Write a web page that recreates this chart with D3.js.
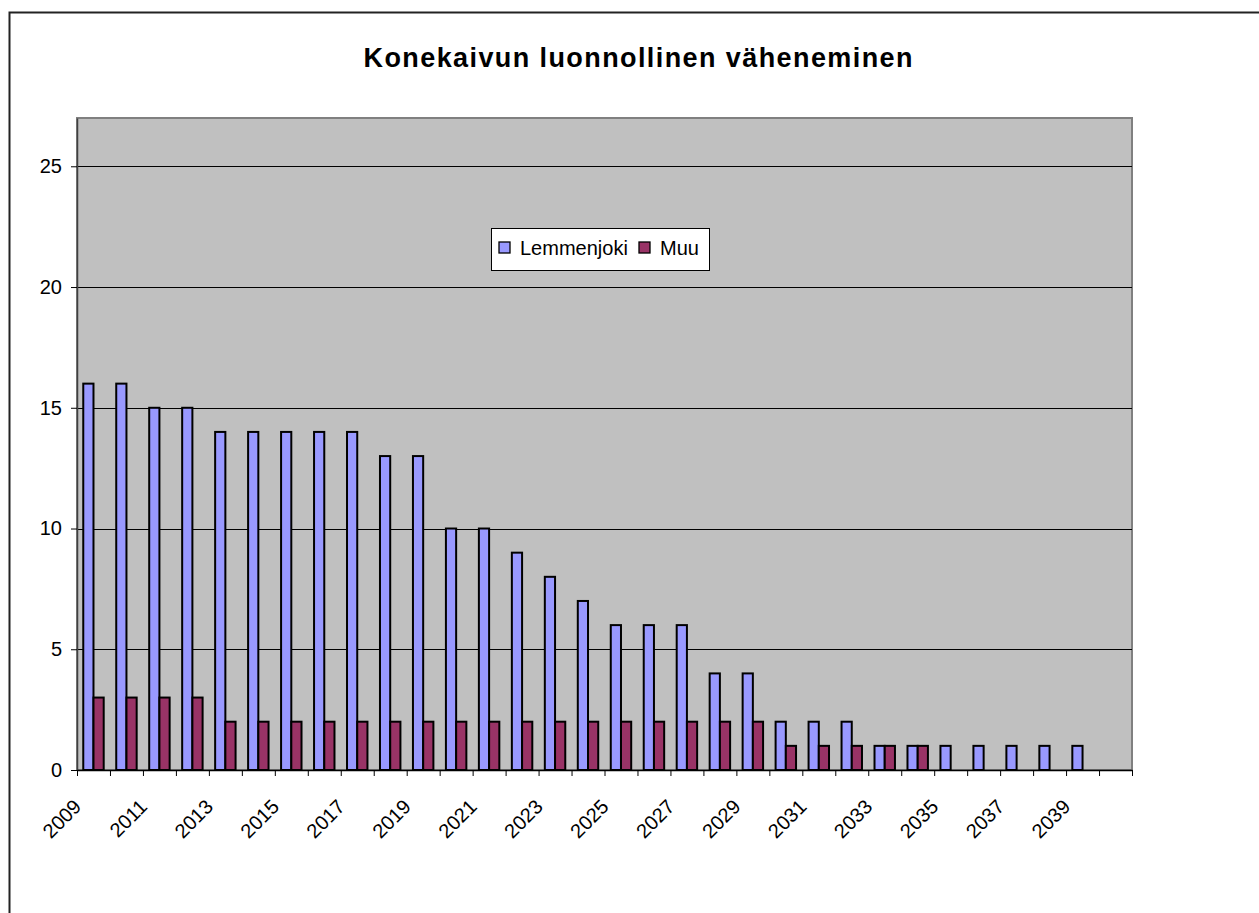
<!DOCTYPE html>
<html>
<head>
<meta charset="utf-8">
<script src="https://cdn.jsdelivr.net/npm/d3@7"></script>
<style>
	body { margin: 0; background: #fff; }
	text { font-family: Arial, "Liberation Sans", sans-serif; fill: #000; }
</style>
</head>
<body>
<script>
// chart data
var years = d3.range(2009, 2041); // 32 categories, last one empty
var lemmenjoki = [16, 16, 15, 15, 14, 14, 14, 14, 14, 13, 13, 10, 10, 9, 8, 7,
	6, 6, 6, 4, 4, 2, 2, 2, 1, 1, 1, 1, 1, 1, 1, null];
var muu = [3, 3, 3, 3, 2, 2, 2, 2, 2, 2, 2, 2, 2, 2, 2, 2,
	2, 2, 2, 2, 2, 1, 1, 1, 1, 1, null, null, null, null, null, null];
var seriesNames = ["Lemmenjoki", "Muu"];
var yTicks = [0, 5, 10, 15, 20, 25];
var tickYears = years.filter(function(d, i){ return i % 2 === 0 && d < 2040; });

var titleText = "Konekaivun luonnollinen väheneminen";

window.onload = function(){
	var w = 1259, h = 913;
	var plotL = 77, plotR = 1132, plotT = 118, plotB = 770;
	var colors = { Lemmenjoki: "#9999FF", Muu: "#993366" };

	var svg = d3.select("body")
		.append("svg")
		.attr("width", w)
		.attr("height", h);

	// outer chart border (runs off the right and bottom)
	svg.append("rect")
		.attr("x", 9.5)
		.attr("y", 12.5)
		.attr("width", 1300)
		.attr("height", 1000)
		.style("fill", "#fff")
		.style("stroke", "#222")
		.style("stroke-width", 2);

	// title
	svg.append("text")
		.attr("x", 638)
		.attr("y", 67)
		.attr("text-anchor", "middle")
		.attr("textLength", 549)
		.attr("lengthAdjust", "spacing")
		.style("font-size", "27px")
		.style("font-weight", "bold")
		.text(titleText);

	// scales
	var x = d3.scaleBand()
		.domain(years)
		.range([plotL, plotR]);

	var barW = x.bandwidth() * 0.31;
	var xSub = d3.scaleBand()
		.domain(seriesNames)
		.range([-barW, barW]);

	var y = d3.scaleLinear()
		.domain([0, 27])
		.range([plotB, plotT]);

	// plot area
	svg.append("rect")
		.attr("x", plotL)
		.attr("y", plotT)
		.attr("width", plotR - plotL)
		.attr("height", plotB - plotT)
		.style("fill", "#C0C0C0")
		.style("stroke", "#808080")
		.style("stroke-width", 2);

	// gridlines
	svg.selectAll(".grid")
		.data(yTicks.filter(function(d){ return d > 0; }))
		.enter()
		.append("line")
		.attr("class", "grid")
		.attr("x1", plotL)
		.attr("x2", plotR)
		.attr("y1", function(d){ return Math.round(y(d)) + 0.5; })
		.attr("y2", function(d){ return Math.round(y(d)) + 0.5; })
		.style("stroke", "#000")
		.style("stroke-width", 1);

	// bars
	var bars = [];
	years.forEach(function(yr, i){
		if (lemmenjoki[i] != null) bars.push({ year: yr, s: "Lemmenjoki", v: lemmenjoki[i] });
		if (muu[i] != null) bars.push({ year: yr, s: "Muu", v: muu[i] });
	});

	svg.selectAll(".bar")
		.data(bars)
		.enter()
		.append("rect")
		.attr("class", "bar")
		.attr("x", function(d){
			return x(d.year) + x.bandwidth() / 2 + xSub(d.s);
		})
		.attr("y", function(d){ return y(d.v); })
		.attr("width", xSub.bandwidth())
		.attr("height", function(d){ return plotB - y(d.v); })
		.style("fill", function(d){ return colors[d.s]; })
		.style("stroke", "#000")
		.style("stroke-width", 2);

	// y axis
	var yAxis = d3.axisLeft(y)
		.tickValues(yTicks)
		.tickSize(6)
		.tickSizeOuter(0);
	var gy = svg.append("g")
		.attr("transform", "translate(" + plotL + ",0)")
		.call(yAxis);
	gy.select(".domain").style("stroke", "#404040").style("stroke-width", 1.5);
	gy.selectAll(".tick line").style("stroke", "#000");
	gy.selectAll(".tick text")
		.attr("x", -15)
		.style("font-size", "20px")
		.style("font-family", "Arial, 'Liberation Sans', sans-serif");

	// x axis: ticks on category boundaries
	var xb = d3.scaleLinear()
		.domain([0, years.length])
		.range([plotL, plotR]);
	var xAxis = d3.axisBottom(xb)
		.tickValues(d3.range(0, years.length + 1))
		.tickFormat("")
		.tickSize(6)
		.tickSizeOuter(0);
	var gx = svg.append("g")
		.attr("transform", "translate(0," + plotB + ")")
		.call(xAxis);
	gx.select(".domain").style("stroke", "#000").style("stroke-width", 1.5);
	gx.selectAll(".tick line").style("stroke", "#000");

	// rotated year labels, every other year
	svg.selectAll(".xlabel")
		.data(tickYears)
		.enter()
		.append("text")
		.attr("class", "xlabel")
		.attr("text-anchor", "end")
		.attr("transform", function(d){
			var cx = x(d) + x.bandwidth() / 2 - 11;
			return "translate(" + cx + ",808) rotate(-45)";
		})
		.style("font-size", "20px")
		.text(function(d){ return d; });

	// legend
	var legend = svg.append("g");
	legend.append("rect")
		.attr("x", 491.5)
		.attr("y", 228.5)
		.attr("width", 218)
		.attr("height", 42)
		.style("fill", "#fff")
		.style("stroke", "#000")
		.style("stroke-width", 1);

	var legendX = [499, 639];
	var items = legend.selectAll(".item")
		.data(seriesNames)
		.enter()
		.append("g")
		.attr("class", "item")
		.attr("transform", function(d, i){ return "translate(" + legendX[i] + ",242)"; });
	items.append("rect")
		.attr("width", 11)
		.attr("height", 11)
		.style("fill", function(d){ return colors[d]; })
		.style("stroke", "#000")
		.style("stroke-width", 1.3);
	items.append("text")
		.attr("x", 21)
		.attr("y", 13)
		.style("font-size", "20px")
		.text(function(d){ return d; });
};
</script>
</body>
</html>
